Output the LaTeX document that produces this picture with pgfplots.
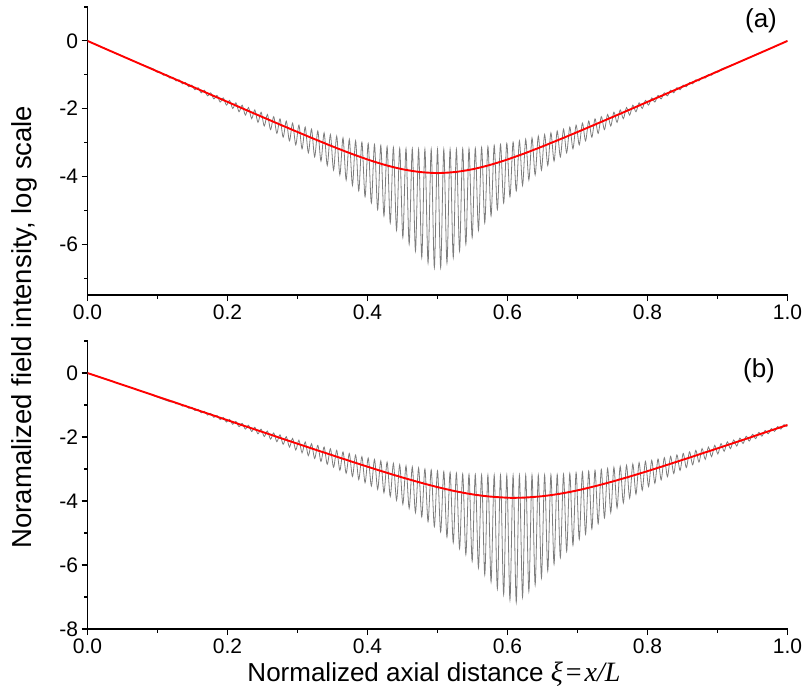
\documentclass[border=0pt]{standalone}
\usepackage{fontspec}
\setmainfont{Liberation Sans}
\newfontfamily\serif{Liberation Serif}
\usepackage{pgfplots}
\pgfplotsset{compat=1.18}
\definecolor{curvegray}{RGB}{125,125,125}
\begin{document}
\begin{tikzpicture}
\useasboundingbox (0pt,0pt) rectangle (805pt,-694pt);
\pgfplotsset{
  every axis/.append style={
    scale only axis, width=700pt, height=288pt,
    xmin=0, xmax=1,
    axis x line*=bottom, axis y line*=left,
    axis line style={line width=1.2pt, black},
    tick align=outside,
    major tick length=6pt, minor tick length=3.5pt,
    every tick/.style={black, line width=1.1pt},
    xtick={0,0.2,0.4,0.6,0.8,1.0},
    xticklabels={0.0,0.2,0.4,0.6,0.8,1.0},
    ytick={-8,-6,-4,-2,0,2},
    yticklabels={-8,-6,-4,-2,0,2},
    minor x tick num=1,
    minor y tick num=1,
    tick label style={font=\fontsize{21}{24}\selectfont},
  }
}
% ---------- panel (a) ----------
\begin{axis}[at={(87.5pt,-295pt)}, anchor=south west, ymin=-7.5, ymax=1]
\addplot[curvegray, line width=0.8pt, smooth] coordinates {
(0,0) (0.025,-0.228) (0.05,-0.453) (0.075,-0.678)
(0.0950,-0.837) (0.0995,-0.928) (0.1040,-0.916) (0.1085,-1.012) (0.1130,-0.994) (0.1175,-1.097) (0.1220,-1.072) (0.1265,-1.183) (0.1310,-1.150) (0.1355,-1.268) (0.1400,-1.228) (0.1445,-1.354) (0.1490,-1.305) (0.1535,-1.443) (0.1580,-1.381) (0.1625,-1.532) (0.1670,-1.457) (0.1715,-1.621) (0.1760,-1.533) (0.1805,-1.713) (0.1850,-1.608) (0.1895,-1.804) (0.1940,-1.683) (0.1985,-1.896) (0.2030,-1.757) (0.2075,-1.994) (0.2120,-1.826) (0.2165,-2.091) (0.2210,-1.898) (0.2255,-2.190) (0.2300,-1.968) (0.2345,-2.294) (0.2390,-2.037) (0.2435,-2.403) (0.2480,-2.105) (0.2525,-2.511) (0.2570,-2.172) (0.2615,-2.619) (0.2660,-2.236) (0.2705,-2.729) (0.2750,-2.301) (0.2795,-2.841) (0.2840,-2.365) (0.2885,-2.952) (0.2930,-2.427) (0.2975,-3.068) (0.3020,-2.486) (0.3065,-3.185) (0.3110,-2.546) (0.3155,-3.303) (0.3200,-2.605) (0.3245,-3.422) (0.3290,-2.661) (0.3335,-3.548) (0.3380,-2.715) (0.3425,-3.675) (0.3470,-2.765) (0.3515,-3.810) (0.3560,-2.811) (0.3605,-3.954) (0.3650,-2.865) (0.3695,-4.104) (0.3740,-2.907) (0.3785,-4.262) (0.3830,-2.949) (0.3875,-4.426) (0.3920,-2.987) (0.3965,-4.600) (0.4010,-3.026) (0.4055,-4.785) (0.4100,-3.056) (0.4145,-4.976) (0.4190,-3.085) (0.4235,-5.165) (0.4280,-3.120) (0.4325,-5.370) (0.4370,-3.146) (0.4415,-5.590) (0.4460,-3.170) (0.4505,-5.800) (0.4550,-3.180) (0.4595,-6.000) (0.4640,-3.185) (0.4685,-6.200) (0.4730,-3.195) (0.4775,-6.390) (0.4820,-3.195) (0.4865,-6.550) (0.4910,-3.200) (0.4955,-6.690) (0.5000,-3.200)
(0.5045,-6.690) (0.5090,-3.200) (0.5135,-6.550) (0.5180,-3.195) (0.5225,-6.390) (0.5270,-3.195) (0.5315,-6.200) (0.5360,-3.185) (0.5405,-6.000) (0.5450,-3.180) (0.5495,-5.800) (0.5540,-3.170) (0.5585,-5.590) (0.5630,-3.146) (0.5675,-5.370) (0.5720,-3.120) (0.5765,-5.165) (0.5810,-3.085) (0.5855,-4.976) (0.5900,-3.056) (0.5945,-4.785) (0.5990,-3.026) (0.6035,-4.600) (0.6080,-2.987) (0.6125,-4.426) (0.6170,-2.949) (0.6215,-4.262) (0.6260,-2.907) (0.6305,-4.104) (0.6350,-2.865) (0.6395,-3.954) (0.6440,-2.811) (0.6485,-3.810) (0.6530,-2.765) (0.6575,-3.675) (0.6620,-2.715) (0.6665,-3.548) (0.6710,-2.661) (0.6755,-3.422) (0.6800,-2.605) (0.6845,-3.303) (0.6890,-2.546) (0.6935,-3.185) (0.6980,-2.486) (0.7025,-3.068) (0.7070,-2.427) (0.7115,-2.952) (0.7160,-2.365) (0.7205,-2.841) (0.7250,-2.301) (0.7295,-2.729) (0.7340,-2.236) (0.7385,-2.619) (0.7430,-2.172) (0.7475,-2.511) (0.7520,-2.105) (0.7565,-2.403) (0.7610,-2.037) (0.7655,-2.294) (0.7700,-1.968) (0.7745,-2.190) (0.7790,-1.898) (0.7835,-2.091) (0.7880,-1.826) (0.7925,-1.994) (0.7970,-1.757) (0.8015,-1.896) (0.8060,-1.683) (0.8105,-1.804) (0.8150,-1.608) (0.8195,-1.713) (0.8240,-1.533) (0.8285,-1.621) (0.8330,-1.457) (0.8375,-1.532) (0.8420,-1.381) (0.8465,-1.443) (0.8510,-1.305) (0.8555,-1.354) (0.8600,-1.228) (0.8645,-1.268) (0.8690,-1.150) (0.8735,-1.183) (0.8780,-1.072) (0.8825,-1.097) (0.8870,-0.994) (0.8915,-1.012) (0.8960,-0.916) (0.9005,-0.928) (0.9050,-0.837)
(0.925,-0.678) (0.95,-0.453) (0.975,-0.228) (1,0)
};
\addplot[red, line width=1.9pt, smooth] coordinates {
(0,0) (0.025,-0.228) (0.05,-0.453) (0.075,-0.678) (0.1,-0.903) (0.125,-1.128) (0.15,-1.352) (0.175,-1.577) (0.2,-1.800) (0.225,-2.025) (0.25,-2.248) (0.275,-2.469) (0.3,-2.689) (0.325,-2.904) (0.35,-3.114) (0.375,-3.315) (0.4,-3.499) (0.425,-3.661) (0.45,-3.788) (0.475,-3.870) (0.5,-3.900)
(0.525,-3.870) (0.55,-3.788) (0.575,-3.661) (0.6,-3.499) (0.625,-3.315) (0.65,-3.114) (0.675,-2.904) (0.7,-2.689) (0.725,-2.469) (0.75,-2.248) (0.775,-2.025) (0.8,-1.800) (0.825,-1.577) (0.85,-1.352) (0.875,-1.128) (0.9,-0.903) (0.925,-0.678) (0.95,-0.453) (0.975,-0.228) (1,0)
};
\end{axis}
% ---------- panel (b) ----------
\begin{axis}[at={(87.5pt,-629pt)}, anchor=south west, ymin=-8, ymax=1]
\addplot[curvegray, line width=0.8pt, smooth] coordinates {
(0,0) (0.04,-0.294) (0.08,-0.589)
(0.1175,-0.895) (0.1220,-0.878) (0.1265,-0.963) (0.1310,-0.943) (0.1355,-1.033) (0.1400,-1.007) (0.1445,-1.102) (0.1490,-1.070) (0.1535,-1.173) (0.1580,-1.135) (0.1625,-1.243) (0.1670,-1.198) (0.1715,-1.314) (0.1760,-1.262) (0.1805,-1.385) (0.1850,-1.325) (0.1895,-1.457) (0.1940,-1.388) (0.1985,-1.531) (0.2030,-1.450) (0.2075,-1.603) (0.2120,-1.512) (0.2165,-1.677) (0.2210,-1.573) (0.2255,-1.752) (0.2300,-1.633) (0.2345,-1.827) (0.2390,-1.695) (0.2435,-1.902) (0.2480,-1.755) (0.2525,-1.983) (0.2570,-1.814) (0.2615,-2.065) (0.2660,-1.872) (0.2705,-2.145) (0.2750,-1.931) (0.2795,-2.227) (0.2840,-1.988) (0.2885,-2.314) (0.2930,-2.044) (0.2975,-2.404) (0.3020,-2.099) (0.3065,-2.492) (0.3110,-2.155) (0.3155,-2.582) (0.3200,-2.209) (0.3245,-2.671) (0.3290,-2.261) (0.3335,-2.763) (0.3380,-2.314) (0.3425,-2.852) (0.3470,-2.366) (0.3515,-2.944) (0.3560,-2.417) (0.3605,-3.039) (0.3650,-2.465) (0.3695,-3.133) (0.3740,-2.515) (0.3785,-3.230) (0.3830,-2.564) (0.3875,-3.329) (0.3920,-2.613) (0.3965,-3.426) (0.4010,-2.658) (0.4055,-3.530) (0.4100,-2.702) (0.4145,-3.634) (0.4190,-2.745) (0.4235,-3.740) (0.4280,-2.784) (0.4325,-3.854) (0.4370,-2.824) (0.4415,-3.974) (0.4460,-2.868) (0.4505,-4.099) (0.4550,-2.903) (0.4595,-4.227) (0.4640,-2.936) (0.4685,-4.359) (0.4730,-2.968) (0.4775,-4.497) (0.4820,-2.999) (0.4865,-4.644) (0.4910,-3.028) (0.4955,-4.800) (0.5000,-3.055) (0.5045,-4.964) (0.5090,-3.080) (0.5135,-5.126) (0.5180,-3.104) (0.5225,-5.300) (0.5270,-3.131) (0.5315,-5.485) (0.5360,-3.154) (0.5405,-5.676) (0.5450,-3.169) (0.5495,-5.879) (0.5540,-3.178) (0.5585,-6.087) (0.5630,-3.182) (0.5675,-6.304) (0.5720,-3.189) (0.5765,-6.524) (0.5810,-3.192) (0.5855,-6.740) (0.5900,-3.194) (0.5945,-6.920) (0.5990,-3.196) (0.6035,-7.090)
(0.6080,-3.200) (0.6125,-7.160) (0.6170,-3.200) (0.6215,-7.000) (0.6260,-3.190) (0.6305,-6.820) (0.6350,-3.190) (0.6395,-6.620) (0.6440,-3.190) (0.6485,-6.400) (0.6530,-3.185) (0.6575,-6.180) (0.6620,-3.180) (0.6665,-5.970) (0.6710,-3.174) (0.6755,-5.766) (0.6800,-3.162) (0.6845,-5.570) (0.6890,-3.141) (0.6935,-5.380) (0.6980,-3.117) (0.7025,-5.200) (0.7070,-3.090) (0.7115,-5.036) (0.7160,-3.067) (0.7205,-4.873) (0.7250,-3.040) (0.7295,-4.710) (0.7340,-3.012) (0.7385,-4.527) (0.7430,-2.983) (0.7475,-4.359) (0.7520,-2.951) (0.7565,-4.211) (0.7610,-2.918) (0.7655,-4.059) (0.7700,-2.883) (0.7745,-3.910) (0.7790,-2.844) (0.7835,-3.783) (0.7880,-2.801) (0.7925,-3.663) (0.7970,-2.763) (0.8015,-3.550) (0.8060,-2.726) (0.8105,-3.446) (0.8150,-2.688) (0.8195,-3.339) (0.8240,-2.648) (0.8285,-3.241) (0.8330,-2.605) (0.8375,-3.143) (0.8420,-2.559) (0.8465,-3.045) (0.8510,-2.512) (0.8555,-2.955) (0.8600,-2.464) (0.8645,-2.868) (0.8690,-2.416) (0.8735,-2.783) (0.8780,-2.363) (0.8825,-2.698) (0.8870,-2.313) (0.8915,-2.615) (0.8960,-2.260) (0.9005,-2.529) (0.9050,-2.206) (0.9095,-2.446) (0.9140,-2.150) (0.9185,-2.364) (0.9230,-2.092) (0.9275,-2.284) (0.9320,-2.034) (0.9365,-2.203) (0.9410,-1.976) (0.9455,-2.126) (0.9500,-1.916) (0.9545,-2.051) (0.9590,-1.856) (0.9635,-1.974) (0.9680,-1.796) (0.9725,-1.898) (0.9770,-1.735) (0.9815,-1.824) (0.9860,-1.673) (0.9905,-1.752) (0.9950,-1.612) (0.9995,-1.680)
};
\addplot[red, line width=1.9pt, smooth] coordinates {
(0,0) (0.025,-0.183) (0.05,-0.368) (0.075,-0.552) (0.1,-0.737) (0.125,-0.921) (0.15,-1.106) (0.175,-1.290) (0.2,-1.475) (0.225,-1.659) (0.25,-1.842) (0.275,-2.026) (0.3,-2.209) (0.325,-2.391) (0.35,-2.571) (0.375,-2.751) (0.4,-2.927) (0.425,-3.100) (0.45,-3.265) (0.475,-3.421) (0.5,-3.565) (0.525,-3.691) (0.55,-3.792) (0.575,-3.861) (0.6,-3.897) (0.61,-3.900) (0.625,-3.892) (0.65,-3.849) (0.675,-3.773) (0.7,-3.667) (0.725,-3.537) (0.75,-3.391) (0.775,-3.233) (0.8,-3.066) (0.825,-2.892) (0.85,-2.715) (0.875,-2.535) (0.9,-2.355) (0.925,-2.172) (0.95,-1.989) (0.975,-1.805) (1,-1.622)
};
\end{axis}
% ---------- labels ----------
\node at (761pt,-21pt) {\fontsize{26}{30}\selectfont (a)};
\node at (759pt,-371pt) {\fontsize{26}{30}\selectfont (b)};
\node[rotate=90, anchor=base] at (31pt,-327pt) {\fontsize{27.5}{30}\selectfont Noramalized field intensity, log scale};
\node[anchor=base] at (434pt,-681pt) {\fontsize{26}{30}\selectfont Normalized axial distance {\serif\fontsize{28}{30}\selectfont\itshape ξ\kern3pt\upshape=\kern3pt\itshape x/L}};
\end{tikzpicture}
\end{document}
